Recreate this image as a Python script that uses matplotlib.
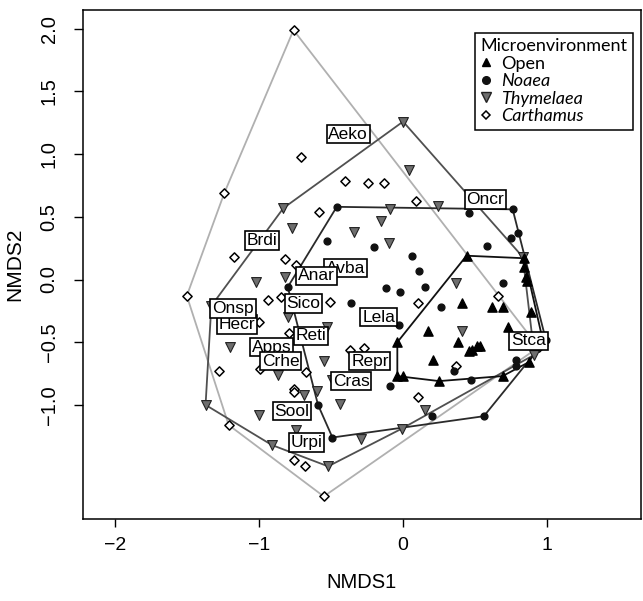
import numpy as np
import matplotlib.pyplot as plt
from matplotlib.lines import Line2D

# NMDS scores per microenvironment
open_x = [0.44, 0.84, 0.84, 0.85, 0.86, 0.41, 0.62, 0.69, 0.89, 0.73, 0.17, -0.04,
          0.38, 0.97, 0.48, 0.51, 0.46, 0.53, 0.21, 0.87, -0.04, 0.00, 0.25, 0.69]
open_y = [0.19, 0.17, 0.10, 0.02, -0.01, -0.19, -0.22, -0.22, -0.26, -0.38, -0.41, -0.50,
          -0.50, -0.49, -0.56, -0.53, -0.57, -0.53, -0.64, -0.66, -0.77, -0.77, -0.81, -0.77]

noaea_x = [-0.46, 0.46, 0.76, 0.80, 0.75, 0.58, -0.53, -0.20, 0.06, 0.11, -0.80, -0.12,
           -0.02, 0.15, 0.69, -0.36, 0.26, -0.03, -0.09, 0.35, 0.78, 0.78, 0.47, -0.59,
           -0.49, 0.56, 0.20, 0.99]
noaea_y = [0.58, 0.53, 0.56, 0.37, 0.33, 0.27, 0.31, 0.26, 0.19, 0.07, -0.06, -0.07,
           -0.10, -0.06, -0.03, -0.19, -0.22, -0.36, -0.85, -0.73, -0.64, -0.69, -0.80, -1.00,
           -1.26, -1.09, -1.09, -0.48]

thym_x = [0.00, 0.04, -0.83, -0.09, 0.24, -0.15, -0.77, -0.34, -0.10, -1.02, -0.82, -1.33,
          -0.80, -0.53, -1.20, -0.55, -0.87, -0.49, 0.83, 0.37, 0.41, -0.69, -0.60, -0.44,
          -1.00, -1.37, -0.74, -0.29, -0.91, -0.52, 0.15, -0.01, 0.91]
thym_y = [1.26, 0.87, 0.57, 0.56, 0.59, 0.47, 0.41, 0.38, 0.29, -0.02, 0.02, -0.21,
          -0.30, -0.38, -0.54, -0.65, -0.76, -0.80, 0.18, -0.03, -0.41, -0.92, -0.89, -0.99,
          -1.08, -1.00, -1.20, -1.27, -1.32, -1.49, -1.04, -1.19, -0.60]

carth_x = [-0.76, -0.71, -1.24, -0.40, -0.24, -0.13, -0.58, 0.09, -1.17, -0.82, -0.74, -1.50,
           -0.94, -0.85, -0.51, -1.00, -0.79, -0.99, -1.28, -0.67, -0.37, -0.27, -0.76, -0.76,
           -1.21, -0.76, -0.68, -0.55, 0.10, 0.66, 0.37, 0.10, 0.94]
carth_y = [1.99, 0.98, 0.69, 0.79, 0.77, 0.77, 0.54, 0.63, 0.18, 0.16, 0.12, -0.13,
           -0.16, -0.14, -0.18, -0.34, -0.43, -0.71, -0.73, -0.74, -0.56, -0.55, -0.87, -0.90,
           -1.16, -1.44, -1.49, -1.73, -0.19, -0.13, -0.69, -0.94, -0.54]

# species scores (boxed labels)
species = ['Aeko', 'Oncr', 'Brdi', 'Avba', 'Anar', 'Sico', 'Hecr', 'Onsp', 'Lela',
           'Reti', 'Apps', 'Crhe', 'Cras', 'Repr', 'Stca', 'Sool', 'Urpi']
species_x = [-0.38, 0.57, -0.98, -0.40, -0.60, -0.69, -1.15, -1.18, -0.17,
             -0.64, -0.91, -0.85, -0.36, -0.23, 0.87, -0.77, -0.67]
species_y = [1.16, 0.64, 0.31, 0.09, 0.03, -0.19, -0.36, -0.23, -0.30,
             -0.45, -0.54, -0.65, -0.81, -0.65, -0.49, -1.05, -1.30]

x_ticks = [-2, -1, 0, 1]
y_ticks = [-1.0, -0.5, 0.0, 0.5, 1.0, 1.5, 2.0]


def convex_hull(xs, ys):
    # monotone chain, returns closed polygon
    pts = sorted(set(zip(xs, ys)))

    def cross(o, a, b):
        return (a[0] - o[0]) * (b[1] - o[1]) - (a[1] - o[1]) * (b[0] - o[0])

    lower, upper = [], []
    for p in pts:
        while len(lower) >= 2 and cross(lower[-2], lower[-1], p) <= 0:
            lower.pop()
        lower.append(p)
    for p in reversed(pts):
        while len(upper) >= 2 and cross(upper[-2], upper[-1], p) <= 0:
            upper.pop()
        upper.append(p)
    hull = lower[:-1] + upper[:-1]
    hull.append(hull[0])
    return np.array(hull)


plt.rcParams['font.family'] = ['Liberation Sans', 'DejaVu Sans']

fig = plt.figure(figsize=(6.43, 6.01), dpi=100)
ax = fig.add_axes([83 / 643, 1 - 519 / 601, 558 / 643, 509 / 601])

groups = [
    (carth_x, carth_y, '#b0b0b0'),
    (thym_x, thym_y, '#505050'),
    (noaea_x, noaea_y, '#2a2a2a'),
    (open_x, open_y, '#111111'),
]
for gx, gy, col in groups:
    h = convex_hull(gx, gy)
    ax.plot(h[:, 0], h[:, 1], color=col, lw=1.3, zorder=2)

ax.scatter(carth_x, carth_y, marker='D', s=22, facecolor='white',
           edgecolor='black', linewidth=1.1, zorder=3)
ax.scatter(thym_x, thym_y, marker='v', s=50, facecolor='#6e6e6e',
           edgecolor='#222222', linewidth=0.8, zorder=3)
ax.scatter(noaea_x, noaea_y, marker='o', s=24, color='#111111', zorder=3)
ax.scatter(open_x, open_y, marker='^', s=44, color='black', zorder=3)

for name, sx, sy in zip(species, species_x, species_y):
    ax.text(sx, sy, name, fontsize=12.5, ha='center', va='center', zorder=5,
            bbox=dict(boxstyle='square,pad=0.1', facecolor='white',
                      edgecolor='black', linewidth=1.2))

ax.set_xlim(-2.22, 1.65)
ax.set_ylim(-1.91, 2.15)
ax.set_xticks(x_ticks)
ax.set_xticklabels([str(v).replace('-', '\u2212') for v in x_ticks])
ax.set_yticks(y_ticks)
ax.set_yticklabels([f'{v:.1f}'.replace('-', '\u2212') for v in y_ticks],
                   rotation=90, va='center')
ax.tick_params(direction='out', length=6, width=1, labelsize=14, pad=7)
ax.tick_params(axis='y', length=6.5, pad=11, labelsize=14.5)
for sp in ax.spines.values():
    sp.set_linewidth(1.1)

ax.set_xlabel('NMDS1', fontsize=14.5, labelpad=14)
ax.set_ylabel('NMDS2', fontsize=15, labelpad=11)

handles = [
    Line2D([], [], marker='^', color='black', linestyle='none', markersize=6),
    Line2D([], [], marker='o', color='#111111', linestyle='none', markersize=5.5),
    Line2D([], [], marker='v', markerfacecolor='#6e6e6e', markeredgecolor='#222222',
           linestyle='none', markersize=6.5),
    Line2D([], [], marker='D', markerfacecolor='white', markeredgecolor='black',
           markeredgewidth=1.1, linestyle='none', markersize=4.5),
]
leg = ax.legend(handles, ['Open', 'Noaea', 'Thymelaea', 'Carthamus'],
                title='Microenvironment', loc='upper right',
                bbox_to_anchor=(0.986, 0.955), borderaxespad=0,
                prop={'family': 'Lato', 'size': 13},
                title_fontproperties={'family': 'Lato', 'size': 13},
                handlelength=0.6, handletextpad=0.5, labelspacing=0.08,
                borderpad=0.3, fancybox=False, framealpha=1,
                edgecolor='black', alignment='left')
leg.get_frame().set_linewidth(1.1)
for t in leg.get_texts()[1:]:
    t.set_fontstyle('italic')

fig.savefig('out.png', dpi=100, facecolor='white')
